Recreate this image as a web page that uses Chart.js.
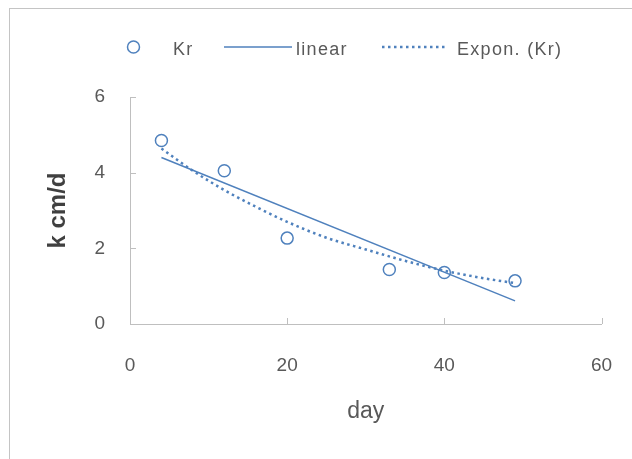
<!DOCTYPE html>
<html>
<head>
<meta charset="utf-8">
<title>Kr</title>
<script src="https://cdn.jsdelivr.net/npm/chart.js@4.4.1/dist/chart.umd.min.js"></script>
<style>
    html, body { margin: 0; padding: 0; background: #fff; overflow: hidden; }
    #frame {
        position: absolute; left: 9px; top: 8px; width: 700px; height: 520px;
        border-left: 1px solid #c4c4c4; border-top: 1px solid #c4c4c4;
    }
    #chart { position: absolute; left: 0; top: 0; }
    .legend-text {
        position: absolute; top: 37px; font-family: "Liberation Sans", Arial, sans-serif;
        font-size: 18px; letter-spacing: 1.3px; color: #595959; line-height: 24px;
    }
    .legend-mark { position: absolute; }
</style>
</head>
<body>
<div id="frame"></div>
<canvas id="chart" width="632" height="459"></canvas>

<div id="legend">
    <svg class="legend-mark" style="left:124px;top:38px" width="20" height="20">
        <circle cx="9.5" cy="9" r="6" fill="none" stroke="#4f81bd" stroke-width="1.5"></circle>
    </svg>
    <span class="legend-text" style="left:173px">Kr</span>
    <svg class="legend-mark" style="left:224px;top:42px" width="70" height="10">
        <line x1="0" y1="5" x2="68" y2="5" stroke="#4f81bd" stroke-width="1.5"></line>
    </svg>
    <span class="legend-text" style="left:296px">linear</span>
    <svg class="legend-mark" style="left:382px;top:42px" width="70" height="10">
        <line x1="0" y1="5" x2="66" y2="5" stroke="#4f81bd" stroke-width="2.5" stroke-dasharray="2.5 3.5"></line>
    </svg>
    <span class="legend-text" style="left:457px">Expon. (Kr)</span>
</div>

<script>
// measured points
const days = [4, 12, 20, 33, 40, 49];
const krValues = [4.85, 4.05, 2.27, 1.44, 1.36, 1.14];

// trendlines
const linearDays = [4, 49];
const linearValues = [4.40, 0.61];
const exponDays = [4, 8, 12, 16, 20, 25, 30, 35, 40, 45, 49];
const exponValues = [4.64, 4.05, 3.54, 3.10, 2.70, 2.28, 1.97, 1.67, 1.41, 1.21, 1.08];

// axis ticks
const xTicks = [0, 20, 40, 60];
const yTicks = [0, 2, 4, 6];

const blue = '#4f81bd';
const axisColor = '#bfbfbf';
const textColor = '#595959';

function toPoints(xs, ys) {
    return xs.map((x, i) => ({ x: x, y: ys[i] }));
}

// excel style tick marks pointing into the plot
const innerTicks = {
    id: 'innerTicks',
    afterDraw(chart) {
        const c = chart.ctx;
        const xs = chart.scales.x;
        const ys = chart.scales.y;
        c.save();
        c.strokeStyle = axisColor;
        c.lineWidth = 1;
        c.beginPath();
        xTicks.forEach(v => {
            const px = Math.round(xs.getPixelForValue(v)) + 0.5;
            c.moveTo(px, ys.bottom);
            c.lineTo(px, ys.bottom - 6);
        });
        yTicks.forEach(v => {
            const py = Math.round(ys.getPixelForValue(v)) + 0.5;
            c.moveTo(xs.left, py);
            c.lineTo(xs.left + 6, py);
        });
        c.stroke();
        c.restore();
    }
};

const ctx = document.getElementById('chart');

new Chart(ctx, {
    type: 'scatter',
    data: {
        datasets: [{
            label: 'Kr',
            data: toPoints(days, krValues),
            showLine: false,
            pointStyle: 'circle',
            pointRadius: 6,
            pointBorderWidth: 1.5,
            pointBorderColor: blue,
            pointBackgroundColor: 'rgba(0,0,0,0)'
        }, {
            label: 'linear',
            data: toPoints(linearDays, linearValues),
            showLine: true,
            borderColor: blue,
            borderWidth: 1.5,
            pointRadius: 0
        }, {
            label: 'Expon. (Kr)',
            data: toPoints(exponDays, exponValues),
            showLine: true,
            borderColor: blue,
            borderWidth: 2.5,
            borderDash: [2.5, 3.5],
            cubicInterpolationMode: 'monotone',
            pointRadius: 0
        }]
    },
    options: {
        responsive: false,
        animation: false,
        events: [],
        layout: {
            padding: { top: 97, right: 30.5, bottom: 0, left: 0 }
        },
        plugins: {
            legend: { display: false },
            tooltip: { enabled: false }
        },
        scales: {
            x: {
                type: 'linear',
                min: 0,
                max: 60,
                afterBuildTicks: s => { s.ticks = xTicks.map(v => ({ value: v })); },
                afterFit: s => { s.height = 135; },
                // hidden grid, tickLength only spaces the labels
                grid: { display: false, drawTicks: true, tickLength: 30 },
                border: { color: axisColor, width: 1 },
                ticks: {
                    padding: 0,
                    color: textColor,
                    font: { family: 'Liberation Sans', size: 19 }
                },
                title: {
                    display: true,
                    text: 'day',
                    color: textColor,
                    padding: { top: 0, bottom: 34 },
                    font: { family: 'Liberation Sans', size: 23 }
                }
            },
            y: {
                min: 0,
                max: 6,
                afterBuildTicks: s => { s.ticks = yTicks.map(v => ({ value: v })); },
                afterFit: s => { s.width = 130; },
                grid: { display: false, drawTicks: true, tickLength: 25 },
                border: { color: axisColor, width: 1 },
                ticks: {
                    padding: 0,
                    color: textColor,
                    font: { family: 'Liberation Sans', size: 19 }
                },
                title: {
                    display: true,
                    text: 'k cm/d',
                    color: '#404040',
                    padding: { top: 44, bottom: 0 },
                    font: { family: 'Liberation Sans', size: 24, weight: 'bold' }
                }
            }
        }
    },
    plugins: [innerTicks]
});
</script>
</body>
</html>
